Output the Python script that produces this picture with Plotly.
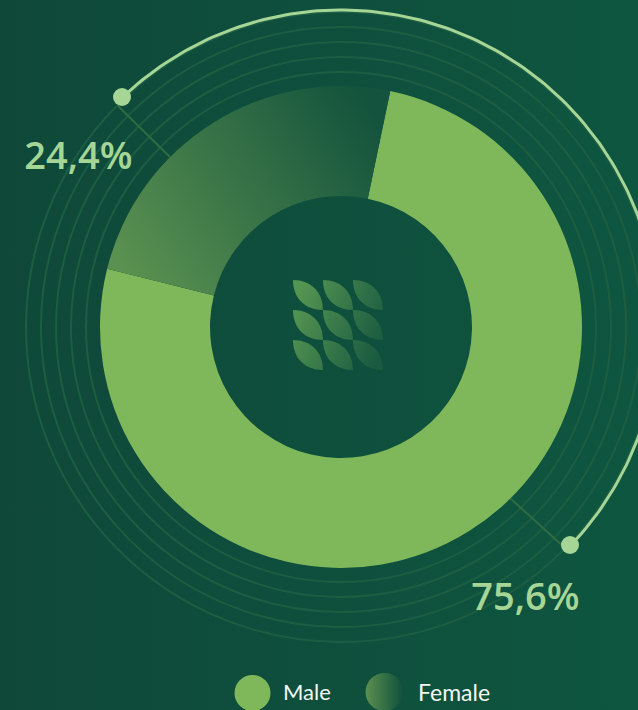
import math
import plotly.graph_objects as go

# Data
categories = ["Male", "Female"]
values = [75.6, 24.4]
value_labels = ["75,6%", "24,4%"]
ring_radii = [255, 270, 285, 300, 315]

# Layout / style constants
W, H = 638, 710
CX, CY, R_OUT, R_IN = 341, 327, 241, 131
R_ARC = 317
LIGHT = "#A6D696"
GREEN = "#7FB85A"
RING = "#1D5E43"

fig = go.Figure()
fig.add_trace(go.Pie(
    labels=categories, values=values, sort=False, direction="clockwise", rotation=11.8,
    hole=R_IN / R_OUT, textinfo="none", showlegend=False, hoverinfo="label+value",
    marker=dict(colors=[GREEN, "#3C7846"], line=dict(width=0)),
    domain=dict(x=[(CX - R_OUT) / W, (CX + R_OUT) / W],
                y=[1 - (CY + R_OUT) / H, 1 - (CY - R_OUT) / H]),
))

shapes = [dict(type="rect", x0=0, x1=W, y0=0, y1=H, layer="below", line_width=0, fillcolor="#010203")]
for r in ring_radii:
    shapes.append(dict(type="circle", x0=CX - r, x1=CX + r, y0=CY - r, y1=CY + r,
                       line=dict(color=RING, width=2), layer="below"))
# leader lines
shapes.append(dict(type="line", x0=118, y0=106, x1=170, y1=157, line=dict(color="#2E6C42", width=2), layer="below"))
shapes.append(dict(type="line", x0=510, y0=498, x1=565, y1=548, line=dict(color="#2E6C42", width=2), layer="below"))
# outer arc (decoration), from the upper-left dot clockwise to the lower-right dot
a0, a1 = math.radians(-133.6), math.radians(43.6)
steps = 180
arc_angles = [a0 + (a1 - a0) * i / steps for i in range(steps + 1)]
arc_x = [CX + R_ARC * math.cos(a) for a in arc_angles]
arc_y = [CY + R_ARC * math.sin(a) for a in arc_angles]
fig.add_trace(go.Scatter(x=arc_x, y=arc_y, mode="lines", hoverinfo="skip", showlegend=False,
                         line=dict(color=LIGHT, width=3)))
# leaf logo
leaf = ""
for row in range(3):
    for col in range(3):
        x, y = 293 + 30 * col, 280 + 30 * row
        leaf += (f"M {x} {y} C {x+18} {y} {x+30} {y+12} {x+30} {y+30} "
                 f"C {x+12} {y+30} {x} {y+18} {x} {y} Z ")
shapes.append(dict(type="path", path=leaf, line_width=0, fillcolor="#010204", layer="above"))

# callout dots + legend swatches
fig.add_trace(go.Scatter(x=[570, 122], y=[545, 97], mode="markers", hoverinfo="skip", showlegend=False,
                         marker=dict(size=18, color=LIGHT, line_width=0)))
fig.add_trace(go.Scatter(x=[525.5, 78.5], y=[600, 159], mode="text", text=value_labels, hoverinfo="skip",
                         showlegend=False, textposition="middle center",
                         textfont=dict(family="Open Sans", size=38, weight=600, color=LIGHT)))
fig.add_trace(go.Scatter(x=[252.5], y=[693], mode="markers", hoverinfo="skip", showlegend=False,
                         marker=dict(size=36, color=GREEN, line_width=0)))
fig.add_trace(go.Scatter(x=[384.5], y=[692], mode="markers", hoverinfo="skip", showlegend=False,
                         marker=dict(size=38, color="#5B904F", line_width=0,
                                     gradient=dict(type="horizontal", color="#0F4F3B"))))
fig.add_trace(go.Scatter(x=[283, 418], y=[694, 695], mode="text", text=categories, hoverinfo="skip",
                         showlegend=False, textposition="middle right",
                         textfont=dict(family="Lato", size=[22, 23], color="#F2F7F2")))

fig.update_layout(
    width=W, height=H, margin=dict(l=0, r=0, t=0, b=0), autosize=False,
    paper_bgcolor="#0F503C", plot_bgcolor="rgba(0,0,0,0)", showlegend=False, shapes=shapes,
    xaxis=dict(range=[0, W], visible=False, fixedrange=True),
    yaxis=dict(range=[H, 0], visible=False, fixedrange=True),
)

post = """
document.documentElement.style.margin = '0';
document.body.style.margin = '0';
document.body.style.overflow = 'hidden';
var gd = document.getElementById('{plot_id}');
var svg = gd.querySelector('.main-svg');
var NS = 'http://www.w3.org/2000/svg';
var defs = svg.querySelector('defs');
function grad(id, x1, y1, x2, y2, stops) {
  var g = document.createElementNS(NS, 'linearGradient');
  g.setAttribute('id', id);
  g.setAttribute('x1', x1); g.setAttribute('y1', y1); g.setAttribute('x2', x2); g.setAttribute('y2', y2);
  stops.forEach(function (s) {
    var e = document.createElementNS(NS, 'stop');
    e.setAttribute('offset', s[0]); e.setAttribute('stop-color', s[1]);
    g.appendChild(e);
  });
  defs.appendChild(g);
}
grad('bgGrad', 0, 0, 1, 0, [[0, '#0F4839'], [1, '#0E5640']]);
grad('femaleGrad', 0, 0.75, 1, 0.25, [[0, '#5A9150'], [1, '#14533D']]);
grad('leafGrad', 0, 0.3, 1, 0.7, [[0, '#559552'], [1, '#1A5A40']]);
gd.querySelectorAll('path, rect').forEach(function (p) {
  var f = p.style.fill;
  if (f === 'rgb(1, 2, 3)') p.style.fill = 'url(#bgGrad)';
  if (f === 'rgb(1, 2, 4)') p.style.fill = 'url(#leafGrad)';
});
var slices = gd.querySelectorAll('.slice path.surface');
if (slices.length > 1) slices[1].style.fill = 'url(#femaleGrad)';
"""
fig.write_html("out.html", post_script=post, config=dict(displayModeBar=False))
